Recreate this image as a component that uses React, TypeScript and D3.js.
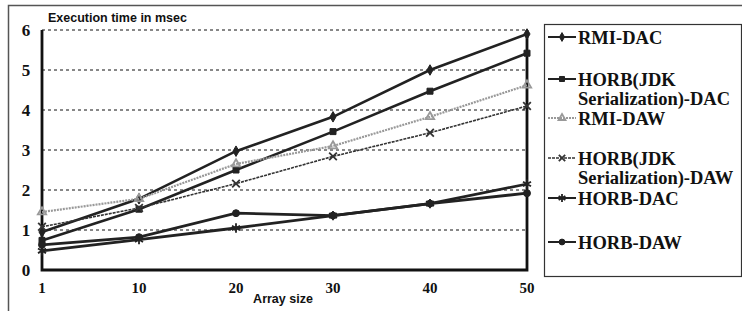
import React, { useEffect, useRef } from 'react';
import * as d3 from 'd3';

const arraySizes = ['1', '10', '20', '30', '40', '50'];
const yTicks = [0, 1, 2, 3, 4, 5, 6];

const rmiDac = [0.95, 1.78, 2.97, 3.83, 5.0, 5.9];
const horbJdkDac = [0.74, 1.52, 2.5, 3.46, 4.47, 5.42];
const rmiDaw = [1.45, 1.78, 2.65, 3.1, 3.83, 4.62];
const horbJdkDaw = [1.08, 1.55, 2.16, 2.84, 3.43, 4.1];
const horbDac = [0.48, 0.76, 1.05, 1.36, 1.66, 2.15];
const horbDaw = [0.63, 0.82, 1.42, 1.36, 1.66, 1.92];

const seriesNames = ['RMI-DAC', 'HORB(JDK Serialization)-DAC', 'RMI-DAW', 'HORB(JDK Serialization)-DAW', 'HORB-DAC', 'HORB-DAW'];

const App = () => {
  const ref = useRef<SVGSVGElement>(null);

  useEffect(() => {
    const svg = d3.select(ref.current);
    svg.selectAll('*').remove();

    const width = 742;
    const height = 311;
    const left = 42, right = 527, top = 30, bottom = 270;

    const x = d3.scalePoint().domain(arraySizes).range([left, right]);
    const y = d3.scaleLinear().domain([0, 6]).range([bottom, top]);

    svg.append('rect').attr('width', width).attr('height', height).attr('fill', 'white');

    // outer frame (top + left edges only are visible)
    svg.append('path')
      .attr('d', `M8.5,${height} V5.5 H${width}`)
      .attr('fill', 'none').attr('stroke', '#555').attr('stroke-width', 1.5);

    // gridlines
    svg.append('g')
      .selectAll('line')
      .data(yTicks.filter(d => d > 0))
      .join('line')
      .attr('x1', left).attr('x2', right)
      .attr('y1', d => y(d)).attr('y2', d => y(d))
      .attr('stroke', '#111').attr('stroke-width', 1)
      .attr('stroke-dasharray', '3,3');

    // plot frame
    svg.append('path')
      .attr('d', `M${left},${top} V${bottom} H${right} V${top}`)
      .attr('fill', 'none').attr('stroke', '#111').attr('stroke-width', 2.8);

    // y ticks
    svg.append('g')
      .selectAll('text')
      .data(yTicks)
      .join('text')
      .attr('x', 26).attr('y', d => y(d) + 6)
      .attr('text-anchor', 'middle')
      .attr('font-family', '"Liberation Serif", serif')
      .attr('font-weight', 'bold')
      .attr('font-size', 17)
      .attr('fill', '#111')
      .text(d => d);

    // x ticks
    svg.append('g')
      .selectAll('text')
      .data(arraySizes)
      .join('text')
      .attr('x', d => x(d)!).attr('y', 293)
      .attr('text-anchor', 'middle')
      .attr('font-family', '"Liberation Serif", serif')
      .attr('font-weight', 'bold')
      .attr('font-size', 15)
      .attr('fill', '#111')
      .text(d => d);

    svg.append('text')
      .attr('x', 48).attr('y', 22)
      .attr('font-family', '"Liberation Sans", Arial, sans-serif')
      .attr('font-weight', 'bold').attr('font-size', 12.5).attr('fill', '#111')
      .text('Execution time in msec');

    svg.append('text')
      .attr('x', 283).attr('y', 303)
      .attr('text-anchor', 'middle')
      .attr('font-family', '"Liberation Sans", Arial, sans-serif')
      .attr('font-weight', 'bold').attr('font-size', 12.5).attr('fill', '#111')
      .text('Array size');

    const series = [
      { name: seriesNames[0], values: rmiDac, symbol: d3.symbolDiamond, size: 32, color: '#222', width: 2.6, dash: null, filled: true },
      { name: seriesNames[1], values: horbJdkDac, symbol: d3.symbolSquare, size: 36, color: '#222', width: 2.6, dash: null, filled: true },
      { name: seriesNames[2], values: rmiDaw, symbol: d3.symbolTriangle, size: 30, color: '#999', width: 2.2, dash: '2,1', filled: false },
      { name: seriesNames[3], values: horbJdkDaw, symbol: d3.symbolTimes, size: 40, color: '#333', width: 1.6, dash: '3,1', filled: false },
      { name: seriesNames[4], values: horbDac, symbol: d3.symbolAsterisk, size: 60, color: '#222', width: 2.8, dash: null, filled: false },
      { name: seriesNames[5], values: horbDaw, symbol: d3.symbolCircle, size: 38, color: '#222', width: 2.8, dash: null, filled: true },
    ];

    const line = d3.line<number>()
      .x((_, i) => x(arraySizes[i])!)
      .y(d => y(d));

    const drawMarker = (g, s, cx, cy) => {
      g.append('path')
        .attr('d', d3.symbol().type(s.symbol).size(s.size)())
        .attr('transform', `translate(${cx},${cy})`)
        .attr('fill', s.filled ? s.color : 'none')
        .attr('stroke', s.color)
        .attr('stroke-width', s.filled ? 1 : 1.8);
    };

    const plot = svg.append('g');
    series.forEach(s => {
      plot.append('path')
        .attr('d', line(s.values))
        .attr('fill', 'none')
        .attr('stroke', s.color)
        .attr('stroke-width', s.width)
        .attr('stroke-dasharray', s.dash);
      s.values.forEach((v, i) => drawMarker(plot, s, x(arraySizes[i])!, y(v)));
    });

    // legend
    svg.append('rect')
      .attr('x', 544.5).attr('y', 24.5).attr('width', 197).attr('height', 252)
      .attr('fill', 'white').attr('stroke', '#333').attr('stroke-width', 1.2);

    const legendY = [37, 79, 118, 158, 198, 242];
    const lg = svg.append('g');
    series.forEach((s, i) => {
      const ly = legendY[i];
      lg.append('line')
        .attr('x1', 548).attr('x2', 576).attr('y1', ly).attr('y2', ly)
        .attr('stroke', s.color).attr('stroke-width', Math.min(s.width, 2))
        .attr('stroke-dasharray', s.dash);
      drawMarker(lg, { ...s, size: s.size * 0.7 }, 562, ly);
      const words = s.name.startsWith('HORB(JDK') ? ['HORB(JDK', s.name.slice(9)] : [s.name];
      words.forEach((w, j) => {
        lg.append('text')
          .attr('x', 578).attr('y', ly + 7 + j * 19)
          .attr('font-family', '"Liberation Serif", "Times New Roman", serif')
          .attr('font-weight', 'bold')
          .attr('font-size', 18.5)
          .attr('fill', '#111')
          .text(w);
      });
    });
  }, []);

  return (
    <svg ref={ref} width={742} height={311}
      style={{ position: 'absolute', left: 0, top: 0, display: 'block' }} />
  );
};

export default App;
